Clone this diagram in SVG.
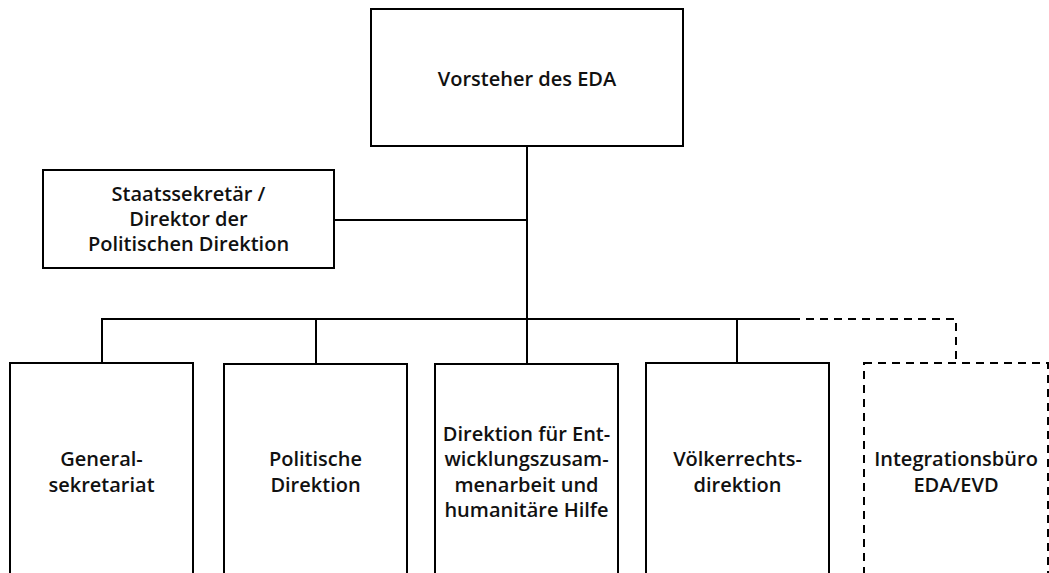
<svg xmlns="http://www.w3.org/2000/svg" width="1049" height="573" viewBox="0 0 1049 573">
<style>
.box{fill:#fff;stroke:#000;stroke-width:2}
.dbox{fill:#fff;stroke:#000;stroke-width:2;stroke-dasharray:8 6}
.ln{fill:none;stroke:#000;stroke-width:2}
.dln{fill:none;stroke:#000;stroke-width:2;stroke-dasharray:8 6}
text{font-family:"Open Sans","Liberation Sans",sans-serif;font-weight:600;font-size:20px;fill:#111;text-anchor:middle}
</style>
<rect width="1049" height="573" fill="#fff"/>
<g id="connectors">
<path class="ln" d="M527 146V319"/>
<path class="ln" d="M334 220H527"/>
<path class="ln" d="M102 363V319H792"/>
<path class="ln" d="M316 364V319"/>
<path class="ln" d="M527 364V319"/>
<path class="ln" d="M737 363V319"/>
<path class="dln" d="M792 319H956V363"/>
</g>
<g id="n-vorsteher">
<rect class="box" x="371" y="9" width="312" height="137"/>
<text x="527" y="86">Vorsteher des EDA</text>
</g>
<g id="n-staatssekretaer">
<rect class="box" x="43" y="170" width="291" height="98"/>
<text x="188.5" y="201">Staatssekretär /</text>
<text x="188.5" y="226">Direktor der</text>
<text x="188.5" y="251">Politischen Direktion</text>
</g>
<g id="n-generalsekretariat">
<rect class="box" x="10" y="363" width="183" height="230"/>
<text x="101.5" y="466">General-</text>
<text x="101.5" y="492">sekretariat</text>
</g>
<g id="n-politische">
<rect class="box" x="224" y="364" width="183" height="230"/>
<text x="315.5" y="466">Politische</text>
<text x="315.5" y="492">Direktion</text>
</g>
<g id="n-deza">
<rect class="box" x="435" y="364" width="183" height="230"/>
<text x="526.5" y="441">Direktion für Ent-</text>
<text x="526.5" y="466">wicklungszusam-</text>
<text x="526.5" y="492">menarbeit und</text>
<text x="526.5" y="517">humanitäre Hilfe</text>
</g>
<g id="n-voelkerrecht">
<rect class="box" x="646" y="363" width="183" height="230"/>
<text x="737.5" y="466">Völkerrechts-</text>
<text x="737.5" y="492">direktion</text>
</g>
<g id="n-integrationsbuero">
<rect class="dbox" x="864" y="363" width="184" height="230"/>
<text x="956" y="466">Integrationsbüro</text>
<text x="956" y="492">EDA/EVD</text>
</g>
</svg>
